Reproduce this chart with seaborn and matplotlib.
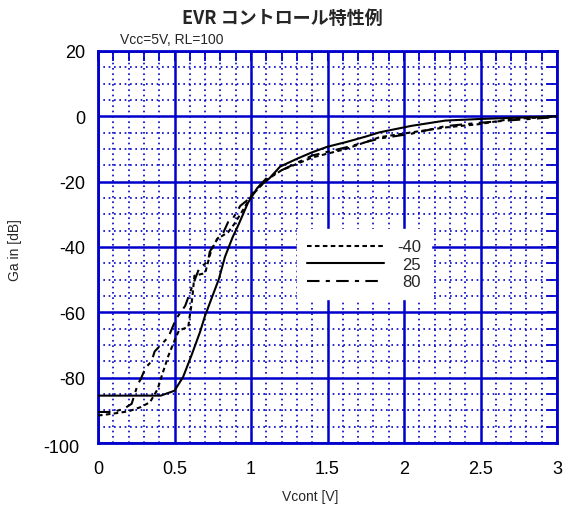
import numpy as np
import pandas as pd
import matplotlib
matplotlib.use("Agg")
import matplotlib.pyplot as plt
import matplotlib.transforms as mtransforms
import seaborn as sns
from matplotlib.ticker import MultipleLocator, FixedLocator

# ---- data ----
x_m40 = [0.00, 0.10, 0.20, 0.28, 0.34, 0.39, 0.41, 0.46, 0.51, 0.53, 0.59, 0.60, 0.61, 0.62, 0.63,
         0.70, 0.74, 0.78, 0.85, 0.89, 0.95, 1.00, 1.10, 1.20, 1.40, 1.62, 1.84, 2.05,
         2.27, 2.49, 2.70, 2.92, 3.00]
y_m40 = [-91.6, -91.0, -90.3, -89.0, -87.5, -83.5, -80.4, -73.3, -67.5, -65.5, -64.5, -61.0, -58.0, -53.8, -48.8,
         -48.0, -41.0, -37.5, -35.5, -33.0, -28.5, -24.5, -19.5, -16.5, -12.6, -10.0, -6.4, -4.9,
         -3.4, -2.4, -0.8, -0.3, 0.0]

x_25 = [0.00, 0.10, 0.20, 0.30, 0.41, 0.50, 0.556, 0.61, 0.667, 0.70, 0.79, 0.83, 0.88, 0.92, 0.98,
        1.04, 1.12, 1.19, 1.30, 1.40, 1.50, 1.62, 1.75, 1.84, 2.05, 2.27, 2.50, 2.75, 2.92, 3.00]
y_25 = [-85.5, -85.5, -85.5, -85.5, -85.5, -84.0, -79.8, -73.3, -66.0, -61.0, -49.8, -43.0, -37.0, -33.0, -26.5,
        -22.0, -19.0, -15.4, -13.0, -11.0, -9.3, -7.9, -6.2, -4.9, -2.9, -1.3, -0.8, -0.4, -0.1, 0.0]

x_80 = [0.00, 0.10, 0.17, 0.22, 0.26, 0.28, 0.31, 0.35, 0.37, 0.41, 0.46, 0.51, 0.57, 0.61, 0.66,
        0.72, 0.73, 0.78, 0.82, 0.85, 0.88, 0.93, 0.97, 1.02, 1.10, 1.20, 1.40, 1.62, 1.84, 2.05,
        2.27, 2.49, 2.70, 2.92, 3.00]
y_80 = [-90.5, -90.5, -89.5, -88.0, -82.0, -80.4, -77.0, -75.0, -72.0, -70.0, -67.6, -62.0, -58.0, -52.8, -46.7,
        -44.3, -41.5, -37.5, -35.5, -32.4, -31.4, -27.4, -25.9, -23.0, -19.0, -16.5, -12.0, -9.5, -6.8, -5.3,
        -3.0, -2.0, -1.2, -0.5, -0.2]

series_labels = ["-40", "25", "80"]
x_ticks = [0, 0.5, 1, 1.5, 2, 2.5, 3]
x_ticklabels = ["0", "0.5", "1", "1.5", "2", "2.5", "3"]
y_ticks = [-100, -80, -60, -40, -20, 0, 20]

title = "EVR コントロール特性例"
subtitle = "Vcc=5V, RL=100"
xlabel = "Vcont [V]"
ylabel = "Ga in [dB]"

df = pd.concat([
    pd.DataFrame({"x": x_m40, "y": y_m40, "T": series_labels[0]}),
    pd.DataFrame({"x": x_25, "y": y_25, "T": series_labels[1]}),
    pd.DataFrame({"x": x_80, "y": y_80, "T": series_labels[2]}),
], ignore_index=True)

sns.set_style("white")
plt.rcParams["font.family"] = ["Liberation Sans", "DejaVu Sans"]
plt.rcParams["axes.unicode_minus"] = False

BLUE = "#0000CC"
narrow = ["Liberation Sans", "DejaVu Sans"]

fig = plt.figure(figsize=(5.65, 5.10), dpi=100)
ax = fig.add_axes([98/565, 1-444/510, (557-98)/565, (444-52)/510])

sns.lineplot(data=df, x="x", y="y", hue="T", style="T", hue_order=series_labels,
             style_order=series_labels,
             palette={l: "black" for l in series_labels},
             dashes={"-40": (2.2, 1.6), "25": "", "80": (6, 3, 2, 3)},
             estimator=None, sort=False, linewidth=1.5, ax=ax, zorder=5)

ax.set_xlim(0, 3)
ax.set_ylim(-100, 20)
ax.xaxis.set_major_locator(FixedLocator(x_ticks))
ax.set_xticklabels(x_ticklabels)
ax.yaxis.set_major_locator(FixedLocator(y_ticks))
ax.xaxis.set_minor_locator(MultipleLocator(0.1))
ax.yaxis.set_minor_locator(MultipleLocator(5))

ax.grid(which="major", color=BLUE, linestyle="-", linewidth=1.8)
ax.grid(which="minor", color=BLUE, linestyle=(0, (1, 2.2)), linewidth=1.2)
ax.set_axisbelow(True)
for s in ax.spines.values():
    s.set_color(BLUE)
    s.set_linewidth(2)

ax.tick_params(which="both", direction="in", top=True, right=True, color=BLUE,
               labelsize=13, labelcolor="black")
ax.tick_params(which="major", length=7, width=1.4)
ax.tick_params(which="minor", length=7, width=1.3)
ax.tick_params(axis="y", which="major", pad=9)
ax.tick_params(axis="x", which="major", pad=12)

# the bottom y label sits slightly lower-left in the reference
lab0 = ax.get_yticklabels()[0]
lab0.set_transform(lab0.get_transform() +
                   mtransforms.ScaledTranslation(-0.06, -0.03, fig.dpi_scale_trans))

ax.set_xlabel("")
ax.set_ylabel("")
fig.text(310/565, 1-497/510, xlabel, ha="center", va="center", fontsize=10, family=narrow)
fig.text(15/565, 1-250/510, ylabel, ha="center", va="center", rotation=90, fontsize=10, family=narrow)
fig.text(282/565, 1-18/510, title, ha="center", va="center", fontsize=13, fontweight="bold",
         family=["Noto Sans CJK JP", "DejaVu Sans"])
fig.text(120/565, 1-40/510, subtitle, ha="left", va="center", fontsize=10, family=narrow)

leg = ax.legend(loc="upper left", bbox_to_anchor=(0.434, 0.545), borderaxespad=0,
                frameon=True, fancybox=False, fontsize=12, handlelength=4.6,
                handletextpad=0.8, labelspacing=0.15, borderpad=0.6, markerfirst=True)
leg.get_frame().set_facecolor("white")
leg.get_frame().set_edgecolor("white")
leg.get_frame().set_alpha(1)
leg.set_zorder(6)

# right-align the legend labels
fig.canvas.draw()
r = fig.canvas.get_renderer()
texts = leg.get_texts()
widths = [t.get_window_extent(r).width for t in texts]
wmax = max(widths)
for t, w in zip(texts, widths):
    t.set_position((wmax - w, 0))

fig.savefig("out.png", dpi=100)
